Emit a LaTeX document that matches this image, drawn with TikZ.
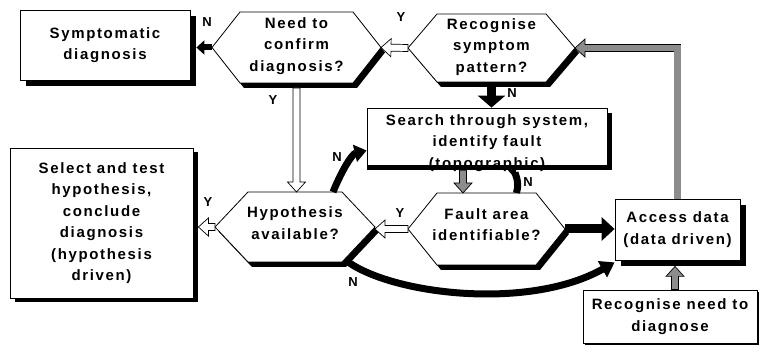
\documentclass[tikz,border=0pt]{standalone}
\usepackage{fontspec}
\newfontfamily\lbl[LetterSpace=11]{Liberation Sans}
\newfontfamily\lblsmall{Liberation Sans}
\usetikzlibrary{arrows.meta,calc,shadows}
\definecolor{hatch}{gray}{0.55}
\tikzset{
  txt/.style={align=center, inner sep=0pt, font=\lbl\bfseries\fontsize{15}{21.5}\selectfont},
  box/.style={txt, draw, line width=0.8pt, fill=white},
  shad/.style 2 args={drop shadow={shadow xshift=#1pt, shadow yshift=-#2pt, fill=black, opacity=1}},
  blk/.style={line width=6pt, black},
  lab/.style={inner sep=0pt, font=\lblsmall\bfseries\fontsize{13}{13}\selectfont},
}
% hexagon: name, cx, cy, half width, inset, half height, text y, text
\newcommand\hexa[8]{%
  \fill[shift={(4,5)}] ({#2-#4},#3) -- ({#2-#4+#5},{#3-#6}) -- ({#2+#4-#5},{#3-#6}) -- ({#2+#4},#3) -- ({#2+#4-#5},{#3+#6}) -- ({#2-#4+#5},{#3+#6}) -- cycle;
  \draw[fill=white, line width=0.8pt] ({#2-#4},#3) -- ({#2-#4+#5},{#3-#6}) -- ({#2+#4-#5},{#3-#6}) -- ({#2+#4},#3) -- ({#2+#4-#5},{#3+#6}) -- ({#2-#4+#5},{#3+#6}) -- cycle;
  \node[txt] (#1) at (#2,#7) {#8};
  \coordinate (#1-w) at ({#2-#4},#3);
  \coordinate (#1-e) at ({#2+#4},#3);
  \coordinate (#1-n) at (#2,{#3-#6});
  \coordinate (#1-s) at (#2,{#3+#6});
}
% block arrow: from, to, fill
\newcommand\blockarrow[3]{%
  \coordinate (ba-s) at (#1);
  \coordinate (ba-e) at (#2);
  \coordinate (ba-h) at ($(ba-e)!10pt!(ba-s)$);
  \draw[line width=0.7pt, fill=#3, line join=miter]
    ($(ba-s)!3.5pt!90:(ba-e)$) -- ($(ba-h)!3.5pt!90:(ba-e)$) -- ($(ba-h)!9pt!90:(ba-e)$) -- (ba-e)
    -- ($(ba-h)!9pt!-90:(ba-e)$) -- ($(ba-h)!3.5pt!-90:(ba-e)$) -- ($(ba-s)!3.5pt!-90:(ba-e)$) -- cycle;
}
\begin{document}
\begin{tikzpicture}[x=1pt,y=-1pt]
\useasboundingbox (0,0) rectangle (761,352);

% boxes
\node[box, shad={6}{6}, minimum width=170pt, minimum height=70pt] (symp) at (105,45) {Symptomatic\\diagnosis};
\node[box, shad={5}{4}, minimum width=183pt, minimum height=150pt] (sel) at (101.5,223) {Select and test\\hypothesis,\\conclude\\diagnosis\\(hypothesis\\driven)};
\node[box, shad={5}{5}, minimum width=240pt, minimum height=57pt] (search) at (487,136.5) {};
\node[txt] (searcht) at (487,143) {Search through system,\\identify fault\\(topographic)};
\draw[line width=5pt] ($(search.south west)+(0,2)$) -- ($(search.south east)+(5,2)$);
\node[box, shad={6}{6}, minimum width=125pt, minimum height=61pt] (access) at (677.5,229.5) {Access data\\(data driven)};
\node[box, shad={2}{2}, minimum width=174pt, minimum height=53pt] (recneed) at (670,316.5) {Recognise need to\\diagnose};

% hexagons
\hexa{need}{296.5}{47.5}{84.5}{28}{35.5}{46}{Need to\\confirm\\diagnosis?}
\hexa{recog}{491.5}{48}{83.5}{29}{34}{47}{Recognise\\symptom\\pattern?}
\hexa{hyp}{295}{227}{80}{33}{35}{223}{Hypothesis\\available?}
\hexa{fault}{486.5}{229}{78.5}{29}{36}{224.5}{Fault area\\identifiable?}

% connectors
\draw[blk, line width=6pt, -{Triangle[length=8pt,width=14pt]}] (need-w) -- ($(need-w -| symp.east)+(6,0)$);
\blockarrow{recog-w}{need-e}{white}
\draw[blk, line width=9pt, -{Triangle[length=12pt,width=27pt]}] (recog-s) -- (recog-s |- search.north);
\blockarrow{$(need-s)+(0,5)$}{need-s |- hyp-n}{white}
\blockarrow{hyp-w}{$(hyp-w -| sel.east)+(5,0)$}{white}
\blockarrow{fault-w}{fault-w -| hyp-e}{white}
\draw[blk, line width=9pt, -{Triangle[length=13pt,width=23pt]}] (fault-e) -- (fault-e -| access.west);
\coordinate (sfs) at ($(search.south)+(-24,5)$);
\blockarrow{sfs}{sfs |- fault-n}{hatch}
\draw[blk, line width=7pt, -{Triangle[length=8pt,width=13pt]}] ($(fault-n)+(30,0)$) .. controls ($(fault-n)+(34,-14)$) and ($(fault-n)+(26,-22)$) .. ($(search.south)+(21,5)$);
\draw[blk, line width=7pt, -{Triangle[length=12pt,width=17pt]}] ($(hyp-n)+(38,0)$) .. controls ($(hyp-n)+(47,-22)$) and ($(hyp-n)+(57,-38)$) .. ($(search.west)+(0,14)$);
\draw[blk, line width=7pt, -{Triangle[length=14pt,width=18pt]}] ($(hyp-s)+(53,0)$) .. controls ($(hyp-s)+(100,33)$) and ($(access.south west)+(-85,50)$) .. ($(access.south west)+(0,2)$);

% feedback from access data to recognise symptom pattern
\blockarrow{$(recog-e)+(16,0)$}{recog-e}{hatch}
\draw[line width=7.7pt, line join=miter] (access.north) -- (access.north |- recog-e) -- ($(recog-e)+(13,0)$);
\draw[line width=6.3pt, hatch, line join=miter] (access.north) -- (access.north |- recog-e) -- ($(recog-e)+(13,0)$);

\coordinate (rn) at ($(recneed.north)+(5,0)$);
\blockarrow{rn}{$(rn |- access.south)+(0,6)$}{hatch}

% labels
\node[lab] (lN1) at (207,22) {N};
\node[lab] (lY1) at (401,17) {Y};
\node[lab] (lN2) at (512,93) {N};
\node[lab] (lY2) at (273,100) {Y};
\node[lab] (lN3) at (337,157) {N};
\node[lab] (lY3) at (208,202) {Y};
\node[lab] (lY4) at (400,213) {Y};
\node[lab] (lN4) at (528,182) {N};
\node[lab] (lN5) at (353,282) {N};
\end{tikzpicture}
\end{document}
